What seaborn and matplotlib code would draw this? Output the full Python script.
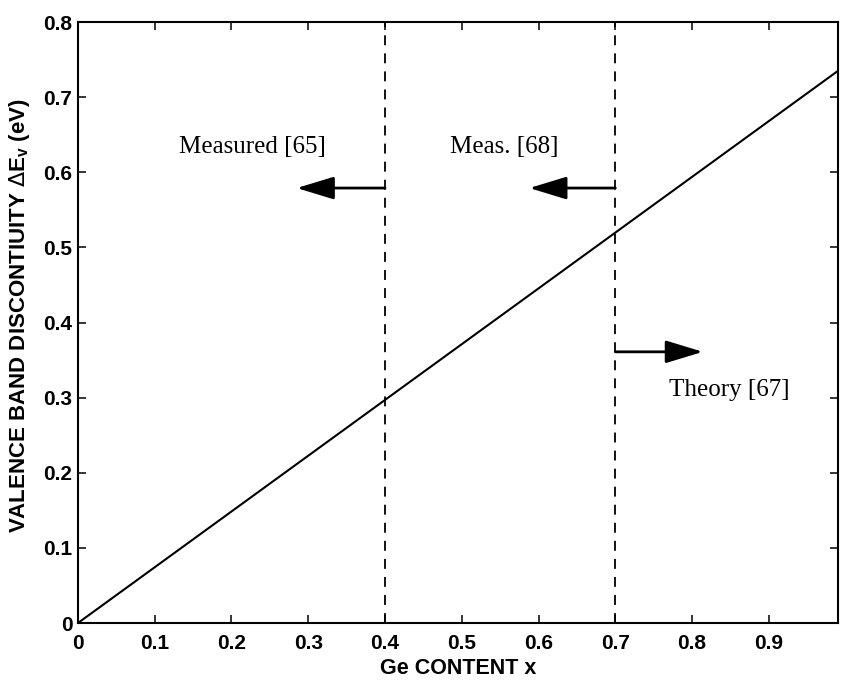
import matplotlib
matplotlib.use("Agg")
import matplotlib.pyplot as plt
import seaborn as sns
import pandas as pd

# Valence band offset versus Ge content (linear fit)
ge_content = [0.0, 0.99]
delta_ev = [0.0, 0.735]

# Boundaries of the composition ranges covered by each reference
boundaries = [0.4, 0.7]

# Range arrows: (start x, end x, y)
arrows = [(0.4, 0.285, 0.579), (0.7, 0.588, 0.579), (0.7, 0.814, 0.361)]
labels = ["Measured [65]", "Meas. [68]", "Theory [67]"]
label_pos = [(0.227, 0.634), (0.555, 0.634), (0.849, 0.31)]

x_ticks = [0, 0.1, 0.2, 0.3, 0.4, 0.5, 0.6, 0.7, 0.8, 0.9]
x_ticklabels = ["0", "0.1", "0.2", "0.3", "0.4", "0.5", "0.6", "0.7", "0.8", "0.9"]
y_ticks = [0, 0.1, 0.2, 0.3, 0.4, 0.5, 0.6, 0.7, 0.8]
y_ticklabels = ["0", "0.1", "0.2", "0.3", "0.4", "0.5", "0.6", "0.7", "0.8"]

sns.set_theme(style="ticks")
plt.rcParams["font.family"] = ["Liberation Sans", "DejaVu Sans"]

fig = plt.figure(figsize=(8.41, 6.80), dpi=100)
ax = fig.add_axes([0.0927, 0.0838, 0.9037, 0.8838])

df = pd.DataFrame({"x": ge_content, "y": delta_ev})
sns.lineplot(data=df, x="x", y="y", ax=ax, color="black", linewidth=1.5)

for b in boundaries:
    ax.axvline(b, color="black", linewidth=1.3, linestyle=(0, (5.5, 4.5)))

for x0, x1, y in arrows:
    ax.annotate("", xy=(x1, y), xytext=(x0, y),
                arrowprops=dict(arrowstyle="-|>,head_length=2.3,head_width=0.7",
                                mutation_scale=10, color="black", lw=2.0,
                                shrinkA=0, shrinkB=0))

for text, (tx, ty) in zip(labels, label_pos):
    ax.text(tx, ty, text, ha="center", va="center", fontsize=18,
            family=["Liberation Serif", "DejaVu Serif"], color="black")

ax.set_xlim(0, 0.99)
ax.set_ylim(0, 0.8)
ax.set_xticks(x_ticks)
ax.set_xticklabels(x_ticklabels)
ax.set_yticks(y_ticks)
ax.set_yticklabels(y_ticklabels)
ax.tick_params(direction="in", top=True, right=True, length=5.8, width=1.1,
               labelsize=15, color="black", labelcolor="black")
ax.tick_params(axis="x", pad=8)
ax.tick_params(axis="y", pad=4)
for lab in ax.get_xticklabels() + ax.get_yticklabels():
    lab.set_fontweight("bold")
for sp in ax.spines.values():
    sp.set_linewidth(1.5)
    sp.set_color("black")

ax.set_xlabel("Ge CONTENT x", fontsize=15.5, fontweight="bold", labelpad=3.5, color="black")
ax.set_ylabel(r"VALENCE BAND DISCONTIUITY $\Delta$E$_\mathregular{v}$ (eV)",
              fontsize=16, fontweight="bold", color="black")
ax.yaxis.set_label_coords(-0.061, 0.512)

fig.savefig("out.png", dpi=100, facecolor="white")
